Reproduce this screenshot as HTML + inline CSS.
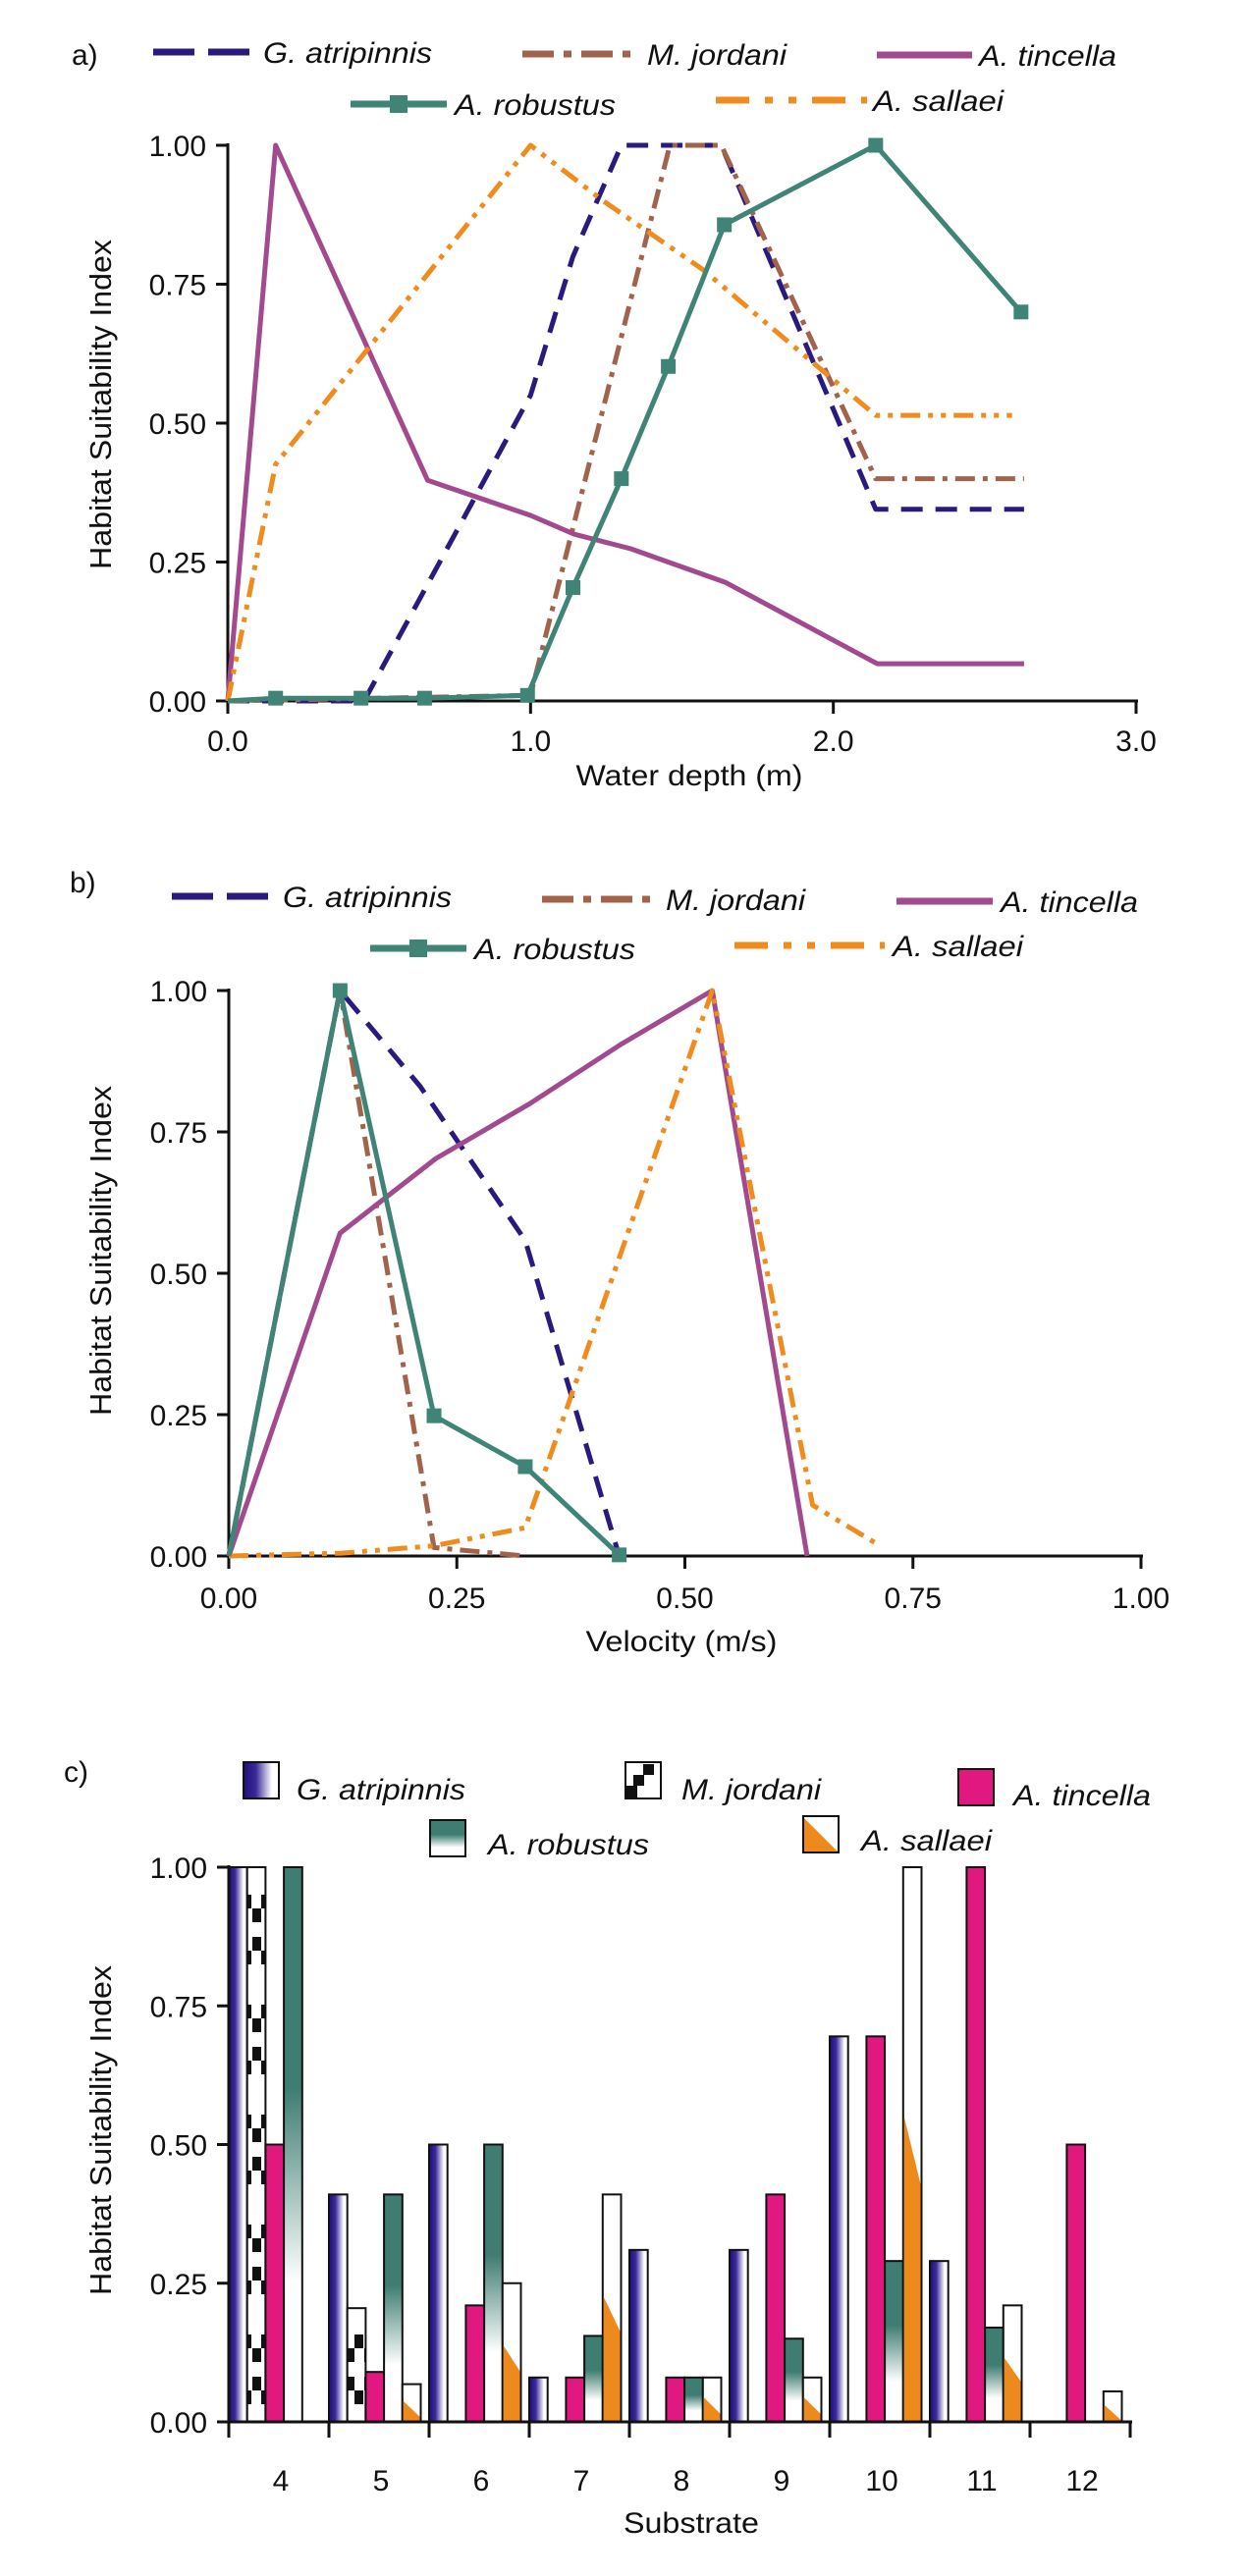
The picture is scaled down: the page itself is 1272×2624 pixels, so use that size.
<!DOCTYPE html>
<html><head><meta charset="utf-8">
<style>
html,body{margin:0;padding:0;background:#fff;}
svg{display:block;}
text{font-family:"Liberation Sans Narrow","Liberation Sans",sans-serif;fill:#111;}
.tk{font-size:30px;font-stretch:condensed;}
.lg{font-size:30px;font-style:italic;font-stretch:condensed;}
.ttl{font-family:"Liberation Sans",sans-serif;font-size:31px;}
</style></head>
<body>
<svg id="fig" width="1272" height="2624" viewBox="0 0 1272 2624" xmlns="http://www.w3.org/2000/svg">
<defs>
<linearGradient id="gG" x1="0" y1="0" x2="1" y2="0"><stop offset="0" stop-color="#1e0f78"/><stop offset="0.35" stop-color="#3a2a9a"/><stop offset="0.8" stop-color="#ffffff"/></linearGradient>
<linearGradient id="gR" x1="0" y1="0" x2="0" y2="1"><stop offset="0" stop-color="#3f7d72"/><stop offset="0.4" stop-color="#3f7d72"/><stop offset="0.75" stop-color="#ffffff"/></linearGradient>
<pattern id="pM" x="0" y="1930" width="19" height="112" patternUnits="userSpaceOnUse"><rect width="19" height="112" fill="#fff"/><rect x="0" y="0" width="9" height="14" fill="#111"/><rect x="10" y="14" width="9" height="14" fill="#111"/><rect x="10" y="43" width="9" height="14" fill="#111"/><rect x="0" y="57" width="9" height="14" fill="#111"/></pattern>
</defs>
</svg>
<script>
// ---- chart a: water depth ----
const depthG_x=[0,0.45,1.0,1.14,1.30,1.63,2.14,2.63];
const depthG_y=[0,0,0.55,0.80,1,1,0.345,0.345];
const depthM_x=[0,1.0,1.46,1.63,2.14,2.63];
const depthM_y=[0,0.01,1,1,0.40,0.40];
const depthT_x=[0,0.158,0.66,1.0,1.145,1.33,1.645,2.145,2.63];
const depthT_y=[0,1,0.397,0.334,0.30,0.274,0.213,0.067,0.067];
const depthR_x=[0,0.158,0.44,0.65,0.99,1.14,1.30,1.455,1.64,2.14,2.62];
const depthR_y=[0,0.005,0.005,0.005,0.01,0.204,0.40,0.602,0.857,1.0,0.70];
const depthS_x=[0,0.158,1.0,1.24,1.57,1.88,2.14,2.59];
const depthS_y=[0,0.426,1.0,0.90,0.776,0.633,0.514,0.514];
const depthTicks=["0.0","1.0","2.0","3.0"];
const depthTickVals=[0,1,2,3];
const hsiTicks=["0.00","0.25","0.50","0.75","1.00"];
const hsiTickVals=[0,0.25,0.5,0.75,1];
// ---- chart b: velocity ----
const velG_x=[0,0.122,0.21,0.325,0.428];
const velG_y=[0,1.0,0.83,0.558,0];
const velM_x=[0,0.122,0.225,0.325];
const velM_y=[0,1.0,0.015,0];
const velT_x=[0,0.122,0.227,0.33,0.43,0.53,0.634];
const velT_y=[0,0.571,0.703,0.80,0.905,1.0,0];
const velR_x=[0,0.122,0.225,0.325,0.428];
const velR_y=[0,1,0.248,0.158,0.002];
const velS_x=[0,0.124,0.225,0.325,0.53,0.64,0.714];
const velS_y=[0,0.005,0.018,0.05,1.0,0.09,0.018];
const velTicks=["0.00","0.25","0.50","0.75","1.00"];
const velTickVals=[0,0.25,0.5,0.75,1];
// ---- chart c: substrate ----
const substrates=["4","5","6","7","8","9","10","11","12"];
const subG=[1.0,0.41,0.5,0.08,0.31,0.31,0.695,0.29,0];
const subM=[1.0,0.205,0,0,0,0,0,0,0];
const subT=[0.5,0.09,0.21,0.08,0.08,0.41,0.695,1.0,0.5];
const subR=[1.0,0.41,0.5,0.155,0.08,0.15,0.29,0.17,0];
const subS=[0,0.068,0.25,0.41,0.08,0.08,1.0,0.21,0.055];

const NS="http://www.w3.org/2000/svg";
const svg=document.getElementById('fig');
function mk(tag,attrs,parent){const e=document.createElementNS(NS,tag);for(const k in attrs)e.setAttribute(k,attrs[k]);(parent||svg).appendChild(e);return e;}
function txt(s,x,y,cls,parent,extra){const t=mk('text',Object.assign({x:x,y:y,class:cls},extra||{}),parent);t.textContent=s;return t;}

const COL={G:'#2b1a7e',M:'#a2634d',T:'#a24a8d',R:'#3f8476',S:'#f08c1e'};
const DASH={G:'22 13',M:'20 8 5 8',T:'none',R:'none',S:'20 8 5 8 5 8'};

function axisY(g,x0,yf){
  const a=mk('line',{x1:x0,y1:yf(1)-2,x2:x0,y2:yf(0)+2,stroke:'#111','stroke-width':3},g);
  
  hsiTicks.forEach((lab,i)=>{
    const y=yf(hsiTickVals[i]);
    mk('line',{x1:x0-12,y1:y,x2:x0,y2:y,stroke:'#111','stroke-width':3},g);
    const t=txt(lab,x0-22,y+11,'tk',g,{'text-anchor':'end'});
    
  });
}

function lineChart(opts){
  const g=mk('g',{});
  
  const X0=opts.x0,X1=opts.x1,Y0=opts.y0,Y1=opts.y1;
  const xf=v=>X0+(v-opts.xmin)/(opts.xmax-opts.xmin)*(X1-X0);
  const yf=v=>Y0-(v)*(Y0-Y1);
  axisY(g,X0,yf);
  const xa=mk('line',{x1:X0-1,y1:Y0,x2:X1+2,y2:Y0,stroke:'#111','stroke-width':3},g);
  
  opts.ticks.forEach((lab,i)=>{
    const x=xf(opts.tickVals[i]);
    mk('line',{x1:x,y1:Y0,x2:x,y2:Y0+13,stroke:'#111','stroke-width':3},g);
    const t=txt(lab,x,opts.tickBase,'tk',g,{'text-anchor':'middle'});
    
  });
  const xt=txt(opts.xtitle,opts.xtitleX,opts.xtitleY,'tk',g,{'text-anchor':'middle',textLength:opts.xtitleW,lengthAdjust:'spacingAndGlyphs'});
  
  const yt=txt('Habitat Suitability Index',0,0,'ttl',g,{'text-anchor':'middle',transform:'translate(113,'+opts.ytitleY+') rotate(-90)',textLength:336,lengthAdjust:'spacingAndGlyphs'});
  
  const pl=txt(opts.label,opts.labelX,opts.labelY,'tk',g);
  
  opts.series.forEach(s=>{
    const pts=s.x.map((v,i)=>xf(v).toFixed(1)+','+yf(s.y[i]).toFixed(1)).join(' ');
    const p=mk('polyline',{points:pts,fill:'none',stroke:COL[s.k],'stroke-width':5,'stroke-dasharray':DASH[s.k],'stroke-linejoin':'round'},g);
    
    if(s.k==='R'){s.x.forEach((v,i)=>{if(i===0)return;
      const m=mk('rect',{x:xf(v)-7.5,y:yf(s.y[i])-7.5,width:15,height:15,fill:COL.R},g);
      });}
  });
  opts.leg.forEach(e=>{
    const lg=mk('g',{},g);
    
    mk('line',{x1:e.x1,y1:e.y,x2:e.x2,y2:e.y,stroke:COL[e.k],'stroke-width':7,'stroke-dasharray':e.k==='G'?'42 14':e.k==='M'?'32 10 8 10':e.k==='S'?'34 16 8 16 8 16':'none'},lg);
    if(e.k==='R')mk('rect',{x:(e.x1+e.x2)/2-9,y:e.y-9,width:18,height:18,fill:COL.R},lg);
    txt(e.t,e.tx,e.y+11,'lg',lg,{textLength:e.tw,lengthAdjust:'spacingAndGlyphs'});
  });
}

lineChart({name:'chart-water-depth',x0:232,x1:1157,y0:714,y1:148,xmin:0,xmax:3,
  ticks:depthTicks,tickVals:depthTickVals,tickBase:765,xtitle:'Water depth (m)',xtitleX:702,xtitleY:800,xtitleW:231,ytitleY:412,
  label:'a)',labelX:73,labelY:66,
  series:[{id:'g-atripinnis',k:'G',x:depthG_x,y:depthG_y},{id:'m-jordani',k:'M',x:depthM_x,y:depthM_y},
          {id:'a-tincella',k:'T',x:depthT_x,y:depthT_y},{id:'a-sallaei',k:'S',x:depthS_x,y:depthS_y},
          {id:'a-robustus',k:'R',x:depthR_x,y:depthR_y}],
  leg:[{id:'g-atripinnis',k:'G',x1:156,x2:260,y:53,t:'G. atripinnis',tx:268,tw:172},
       {id:'m-jordani',k:'M',x1:532,x2:649,y:55,t:'M. jordani',tx:659,tw:142},
       {id:'a-tincella',k:'T',x1:893,x2:990,y:56,t:'A. tincella',tx:997,tw:140},
       {id:'a-robustus',k:'R',x1:357,x2:455,y:106,t:'A. robustus',tx:463,tw:164},
       {id:'a-sallaei',k:'S',x1:729,x2:883,y:102,t:'A. sallaei',tx:889,tw:133}]});

lineChart({name:'chart-velocity',x0:233,x1:1162,y0:1585,y1:1009,xmin:0,xmax:1,
  ticks:velTicks,tickVals:velTickVals,tickBase:1638,xtitle:'Velocity (m/s)',xtitleX:694,xtitleY:1682,xtitleW:195,ytitleY:1274,
  label:'b)',labelX:71,labelY:909,
  series:[{id:'g-atripinnis',k:'G',x:velG_x,y:velG_y},{id:'m-jordani',k:'M',x:velM_x,y:velM_y},
          {id:'a-tincella',k:'T',x:velT_x,y:velT_y},{id:'a-sallaei',k:'S',x:velS_x,y:velS_y},
          {id:'a-robustus',k:'R',x:velR_x,y:velR_y}],
  leg:[{id:'g-atripinnis',k:'G',x1:175,x2:280,y:913,t:'G. atripinnis',tx:288,tw:172},
       {id:'m-jordani',k:'M',x1:552,x2:670,y:916,t:'M. jordani',tx:678,tw:142},
       {id:'a-tincella',k:'T',x1:913,x2:1011,y:918,t:'A. tincella',tx:1019,tw:140},
       {id:'a-robustus',k:'R',x1:377,x2:475,y:966,t:'A. robustus',tx:483,tw:164},
       {id:'a-sallaei',k:'S',x1:748,x2:901,y:963,t:'A. sallaei',tx:909,tw:133}]});

(function(){
  const g=mk('g',{});
  
  const X0=233,GW=102,BW=18.7,Y0=2467,Y1=1902;
  const yf=v=>Y0-v*(Y0-Y1);
  const series=[['G',subG,'url(#gG)'],['M',subM,'url(#pM)'],['T',subT,'#e0187f'],['R',subR,'url(#gR)'],['S',subS,'#fff']];
  substrates.forEach((lab,i)=>{
    const gx=X0+i*GW;
    series.forEach((s,j)=>{
      const v=s[1][i]; if(v<=0) return;
      const x=gx+j*BW,y=yf(v),h=Y0-y;
      const r=mk('rect',{x:x,y:y,width:BW,height:h,fill:s[2],stroke:'#111','stroke-width':2},g);
      
      
      if(s[0]==='S'){
        const yl=Y0-Math.min(h*0.55,h-4),yr=Y0-Math.max(h*0.45-12,0);
        const p=mk('polygon',{points:(x+1)+','+yl+' '+(x+BW-1)+','+yr+' '+(x+BW-1)+','+(Y0-1)+' '+(x+1)+','+(Y0-1),fill:'#ee8a1c'},g);
        
      }
    });
  });
  axisY(g,X0,yf);
  const xa=mk('line',{x1:X0-1,y1:Y0,x2:X0+9*GW+2,y2:Y0,stroke:'#111','stroke-width':3},g);
  
  for(let i=0;i<=substrates.length;i++){mk('line',{x1:X0+i*GW,y1:Y0,x2:X0+i*GW,y2:Y0+16,stroke:'#111','stroke-width':3},g);}
  substrates.forEach((lab,i)=>{
    const t=txt(lab,X0+i*GW+GW/2+2,2537,'tk',g,{'text-anchor':'middle'});
    
  });
  const xt=txt('Substrate',704,2580,'tk',g,{'text-anchor':'middle',textLength:138,lengthAdjust:'spacingAndGlyphs'});
  
  const yt=txt('Habitat Suitability Index',0,0,'ttl',g,{'text-anchor':'middle',transform:'translate(113,2170) rotate(-90)',textLength:336,lengthAdjust:'spacingAndGlyphs'});
  
  const pl=txt('c)',65,1815,'tk',g);
  
  const leg=[['g-atripinnis','url(#gG)',248,1795,'G. atripinnis',302,1833,172],
             ['m-jordani','#fff',637,1795,'M. jordani',694,1833,142],
             ['a-tincella','#e0187f',976,1802,'A. tincella',1032,1839,140],
             ['a-robustus','url(#gR)',438,1854,'A. robustus',497,1889,164],
             ['a-sallaei','#fff',818,1850,'A. sallaei',877,1885,133]];
  leg.forEach(e=>{
    const lg=mk('g',{},g);
    
    mk('rect',{x:e[2],y:e[3],width:36,height:37,fill:e[1],stroke:'#111','stroke-width':2},lg);
    if(e[0]==='m-jordani'){
      mk('rect',{x:e[2]+18,y:e[3]+2,width:11,height:11,fill:'#111'},lg);mk('rect',{x:e[2]+8,y:e[3]+13,width:11,height:11,fill:'#111'},lg);mk('rect',{x:e[2]+1,y:e[3]+24,width:11,height:12,fill:'#111'},lg);}
    if(e[0]==='a-sallaei'){mk('polygon',{points:(e[2]+1)+','+(e[3]+2)+' '+(e[2]+35)+','+(e[3]+36)+' '+(e[2]+1)+','+(e[3]+36),fill:'#ee8a1c'},lg);}
    txt(e[4],e[5],e[6],'lg',lg,{textLength:e[7],lengthAdjust:'spacingAndGlyphs'});
  });
})();
</script>
</body></html>
